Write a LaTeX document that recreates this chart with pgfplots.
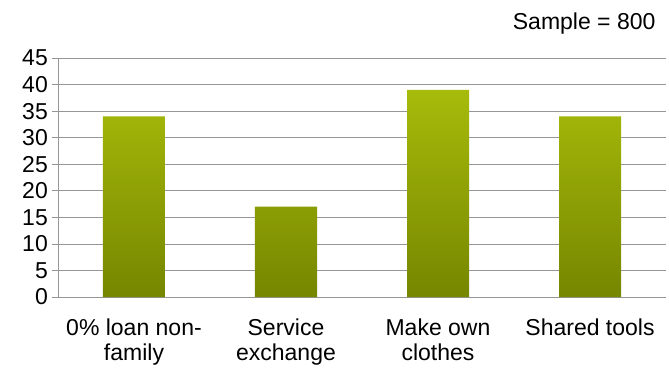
\documentclass[border=0pt]{standalone}
\usepackage{pgfplots}
\pgfplotsset{compat=1.18}
\usepackage{fontspec}
\setmainfont{Liberation Sans}
\definecolor{bartop}{RGB}{166,187,10}
\definecolor{barbot}{RGB}{118,134,0}
\definecolor{gridc}{RGB}{150,150,150}
\begin{document}
\begin{tikzpicture}
\useasboundingbox (-58pt,-73pt) rectangle (611pt,297pt);
\begin{axis}[
  at={(0pt,0pt)}, anchor=south west,
  scale only axis, width=608pt, height=239pt,
  xmin=-0.5, xmax=3.5, ymin=0, ymax=45,
  ytick={0,5,...,45},
  xtick={0,1,2,3},
  xticklabels={0\% loan non-\\family, Service\\exchange, Make own\\clothes, Shared tools},
  extra x ticks={-0.5,0.5,1.5,2.5,3.5},
  extra x tick labels={},
  extra x tick style={major tick length=6pt, tick style={gridc, line width=0.6pt}, grid=none},
  major tick length=6pt,
  x tick style={draw=none},
  tick align=outside,
  y tick style={gridc, line width=0.6pt},
  axis lines*=left,
  axis line style={gridc, line width=0.6pt, -},
  ymajorgrids,
  grid style={gridc, line width=0.6pt},
  font=\fontsize{23}{25}\selectfont,
  /pgf/number format/assume math mode=true,
  yticklabel style={font=\fontsize{23}{23}\selectfont, inner sep=1pt, xshift=-3pt},
  xticklabel style={align=center, font=\fontsize{23}{25}\selectfont, inner sep=1pt, yshift=-15pt},
  ybar, bar width=62pt,
  clip=false,
]
\addplot[draw=none, top color=bartop, bottom color=barbot, shading=axis] coordinates {(0,34) (1,17) (2,39) (3,34)};
\node[anchor=east, inner sep=0pt, font=\fontsize{23}{25}\selectfont] at ([yshift=34pt]rel axis cs:0.983,1) {Sample = 800};
\end{axis}
\end{tikzpicture}
\end{document}
